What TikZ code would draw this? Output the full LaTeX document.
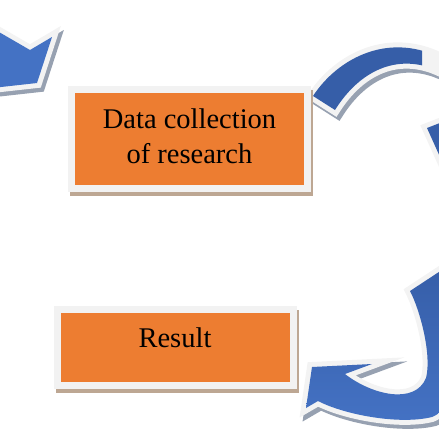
\documentclass[tikz,border=0pt]{standalone}
\usepackage{fontspec}
\setmainfont{Liberation Serif}
\usepackage{tikz}
\usetikzlibrary{positioning}

\definecolor{stageorange}{HTML}{ED7D31}
\definecolor{stageframe}{HTML}{F2F2F2}
\definecolor{stageshade}{HTML}{BDA793}
\definecolor{arrowblue}{HTML}{4472C4}
\definecolor{arrowdark}{HTML}{365EA8}
\definecolor{arrowrim}{HTML}{F3F3F3}
\definecolor{arrowshade}{HTML}{97A1B1}

\begin{document}
\begin{tikzpicture}[x=1pt,y=-1pt,node distance=208.5pt,semithick]
	\tikzstyle{stage}=[rectangle,fill=stageorange,draw=stageframe,line width=7pt,
		minimum width=236pt,font=\fontsize{28.5}{35}\selectfont,align=center,
		preaction={draw=stageshade,fill=stageshade,line width=7pt,
			transform canvas={xshift=2pt,yshift=-4pt}}]
	\tikzstyle{ribbon}=[line join=miter,
		preaction={draw=arrowshade,fill=arrowshade,line width=10pt,line join=miter,
			transform canvas={xshift=3pt,yshift=-4pt}},
		preaction={draw=arrowrim,fill=arrowrim,line width=10pt,line join=miter}]

	\useasboundingbox (0,0) rectangle (439,439);

	% top-left arrow, cut by the frame
	\path[ribbon,fill=arrowblue] (-8,28) -- (30,50) -- (52,37) -- (37,83) -- (-8,88) -- cycle;

	% top-right arrow
	\path[ribbon,fill=arrowrim] (313,96) .. controls (338,58) and (390,30) .. (445,60)
		-- (445,74) .. controls (400,50) and (360,70) .. (335,110) -- cycle;
	\begin{scope}
		\clip (300,0) rectangle (422,439);
		\fill[arrowdark] (313,96) .. controls (338,58) and (390,30) .. (445,60)
			-- (445,74) .. controls (400,50) and (360,70) .. (335,110) -- cycle;
	\end{scope}
	\path[ribbon,fill=arrowdark] (427,128) -- (445,121) -- (445,168) -- cycle;

	% bottom-right arrow
	\path[ribbon,top color=arrowdark,bottom color=arrowblue] (410,291) -- (448,266)
		.. controls (468,340) and (462,405) .. (432,417)
		.. controls (400,425) and (345,415) .. (318,401)
		-- (306,408) -- (312,367) -- (372,364) -- (345,374)
		.. controls (372,395) and (415,405) .. (426,378)
		.. controls (432,355) and (420,310) .. (410,291) -- cycle;

	\node[stage,minimum height=99pt,text depth=6pt]	(data)	at (189.5,139)	{Data collection\\of research};
	\node[stage,minimum height=76pt,text height=20pt,text depth=20pt]	(result)	[below of=data,xshift=-14.5pt]	{Result};
\end{tikzpicture}
\end{document}
